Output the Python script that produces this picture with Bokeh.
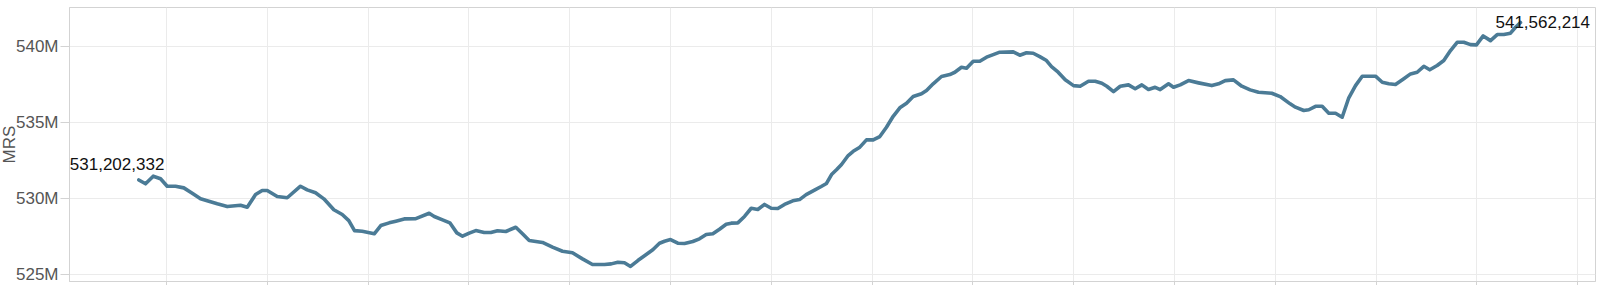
from bokeh.plotting import figure
from bokeh.models import FixedTicker, Range1d, Title, PrintfTickFormatter, CustomJSTickFormatter
from bokeh.core.properties import value
from bokeh.embed import file_html
from bokeh.resources import INLINE

# ---- data ----
period = [
    -3.30, -2.50, -1.58, -0.71, 0.08, 1.07, 2.06, 3.06, 4.05, 5.04, 6.04, 7.23, 8.81, 9.61,
    10.60, 11.39, 11.99, 13.18, 14.37, 15.95, 16.75, 17.74, 18.73, 19.92, 20.92, 21.70, 22.38, 23.30,
    24.73, 25.51, 26.51, 27.30, 28.30, 29.68, 31.27, 31.87, 32.86, 33.73, 34.56, 35.24, 36.04, 36.82,
    37.82, 38.61, 39.40, 40.39, 41.58, 42.38, 43.18, 44.76, 45.95, 47.14, 48.33, 49.52, 50.71,
    52.14, 52.94, 53.73, 54.52, 55.24, 56.11, 57.11, 57.89, 58.69, 59.29, 60.00, 60.87, 61.67, 62.65,
    63.45, 64.25, 65.04, 65.83, 66.63, 67.23, 68.01, 68.81, 69.61, 70.39, 71.19, 71.99, 72.77, 73.57,
    74.56, 75.36, 76.15, 77.14, 77.94, 78.57, 79.17, 79.76, 80.36, 81.15, 81.75, 82.54, 83.33, 84.13,
    84.92, 85.71, 86.51, 87.30, 88.10, 88.89, 89.88, 90.48, 91.27, 92.26, 93.25, 93.85, 94.64, 95.24,
    96.04, 96.82, 97.62, 98.42, 99.20, 100.80, 101.58, 102.38, 103.18, 103.96, 104.76, 105.36, 106.15,
    106.99, 107.98, 108.77, 109.76, 110.56, 111.35, 111.94, 112.74, 113.54, 114.52, 115.32, 116.11,
    116.90, 117.70, 118.30, 119.29, 119.88, 120.68, 121.67, 122.86, 124.44, 125.24, 126.04, 127.02,
    128.01, 129.01, 130.00, 131.58, 132.58, 133.77, 134.40, 135.39, 135.99, 136.79, 137.58, 138.37,
    139.17, 139.96, 140.75, 141.55, 142.35, 143.13, 143.93, 144.73, 145.51, 146.31, 147.30, 148.10,
    148.89, 149.68, 150.39, 151.27, 152.06, 152.86, 153.65, 154.44, 155.24, 155.95, 156.75, 157.62,
    158.42, 159.20, 160.00, 160.60, 161.19,
]
mrs_millions = [
    531.202332, 530.95, 531.45, 531.28, 530.79, 530.79, 530.68, 530.33, 529.96, 529.80, 529.63, 529.45,
    529.54, 529.41, 530.24, 530.51, 530.51, 530.11, 530.03, 530.79, 530.55, 530.36, 529.96, 529.24,
    528.93, 528.53, 527.87, 527.83,
    527.66, 528.20, 528.38, 528.49, 528.64, 528.66, 529.01, 528.80, 528.58, 528.38, 527.72, 527.50,
    527.70, 527.87, 527.74, 527.74, 527.86, 527.81, 528.09, 527.66, 527.22, 527.09, 526.78, 526.51,
    526.41, 526.01, 525.64,
    525.64, 525.68, 525.79, 525.75, 525.51, 525.90, 526.30, 526.61, 527.04, 527.17, 527.28, 527.04,
    527.02, 527.15, 527.33, 527.61, 527.66, 527.96, 528.29, 528.36, 528.38, 528.80, 529.34, 529.26,
    529.59, 529.34, 529.32, 529.59, 529.83, 529.91, 530.24, 530.53, 530.77,
    530.97, 531.56, 531.87, 532.22, 532.81, 533.09, 533.36, 533.84, 533.84, 534.06, 534.67, 535.39,
    535.95, 536.25, 536.69, 536.87, 537.09, 537.53, 538.01, 538.14, 538.29, 538.62, 538.55, 539.01,
    539.01, 539.28, 539.45, 539.61, 539.63, 539.41, 539.57, 539.54, 539.32, 539.06, 538.66, 538.29,
    537.79, 537.41, 537.37, 537.70, 537.70, 537.57, 537.37, 537.02, 537.37, 537.46, 537.20, 537.46,
    537.15, 537.30, 537.15, 537.53, 537.30, 537.46, 537.74, 537.59, 537.41, 537.53, 537.74, 537.79,
    537.37, 537.13, 536.97, 536.91, 536.69, 536.21,
    535.99, 535.77, 535.82, 536.05, 536.05, 535.59, 535.59, 535.33, 536.61, 537.41, 538.03, 538.03,
    538.03, 537.63, 537.53, 537.48, 537.86, 538.18, 538.29, 538.68, 538.45, 538.73, 539.06, 539.72,
    540.26, 540.26, 540.11, 540.09, 540.68, 540.37, 540.77, 540.77, 540.86, 541.25, 541.562214,
]
y_ticks = [525, 530, 535, 540]
x_grid_ticks = [0, 12, 24, 36, 48, 60, 72, 84, 96, 108, 120, 132, 144, 156, 168]
axis_title = "MRS"

LINE = "#4b7b96"
GRID = "#ebebeb"
AXIS = "#d3d3d3"
FONT = "Liberation Sans"

p = figure(
    width=1600, height=285,
    x_range=Range1d(-11.55, 170.12), y_range=Range1d(524.52, 542.55),
    output_backend="svg", toolbar_location=None,
    min_border_left=69, min_border_right=5, min_border_top=7, min_border_bottom=4,
)
p.background_fill_color = "white"
p.border_fill_color = "white"
p.outline_line_color = AXIS
p.outline_line_width = 1

p.line(period, mrs_millions, line_color=LINE, line_width=3.6,
       line_join="round", line_cap="round")

# end labels
fmt = lambda v: f"{int(round(v * 1e6)):,}"
p.text(x=[period[0]], y=[mrs_millions[0]], text=[fmt(mrs_millions[0])],
       text_font=value(FONT), text_font_size="17px", text_color="#111111",
       text_align="left", text_baseline="middle", x_offset=-69, y_offset=-16)
p.text(x=[period[-1]], y=[mrs_millions[-1]], text=[fmt(mrs_millions[-1])],
       text_font=value(FONT), text_font_size="17px", text_color="#111111",
       text_align="left", text_baseline="middle", x_offset=-25, y_offset=-1)

# y axis
yax = p.yaxis[0]
yax.ticker = FixedTicker(ticks=y_ticks)
yax.formatter = PrintfTickFormatter(format="%dM")
yax.major_label_text_font = FONT
yax.major_label_text_font_size = "17px"
yax.major_label_text_color = "#555555"
yax.major_tick_out = 9
yax.major_tick_in = 0
yax.minor_tick_out = 0
yax.minor_tick_in = 0
yax.major_tick_line_color = AXIS
yax.axis_line_color = AXIS
yax.major_label_standoff = 2

# x axis: ticks only
xax = p.xaxis[0]
xax.ticker = FixedTicker(ticks=x_grid_ticks)
xax.formatter = CustomJSTickFormatter(code="return ''")
xax.major_label_text_font_size = "0px"
xax.major_label_standoff = 0
xax.major_tick_out = 4
xax.major_tick_in = 0
xax.minor_tick_out = 0
xax.minor_tick_in = 0
xax.major_tick_line_color = AXIS
xax.axis_line_color = AXIS

p.xgrid.ticker = FixedTicker(ticks=x_grid_ticks)
p.ygrid.ticker = FixedTicker(ticks=y_ticks)
p.xgrid.grid_line_color = GRID
p.ygrid.grid_line_color = GRID

# axis title at the far left (mostly cut off in the original)
p.add_layout(Title(text=axis_title, align="center", text_font=FONT,
                   text_font_size="17px", text_font_style="normal",
                   text_color="#555555", standoff=-12), "left")

open("out.html", "w").write(file_html(p, INLINE))
